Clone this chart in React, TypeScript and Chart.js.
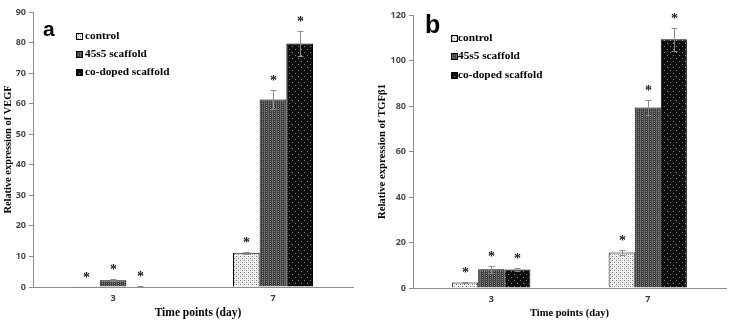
import React, { useEffect, useRef } from 'react';
import { Chart, registerables } from 'chart.js';

Chart.register(...registerables);

// Time points (x categories) and series names
const days = ['3', '7'];
const seriesNames = ['control', '45s5 scaffold', 'co-doped scaffold'];

// VEGF relative expression (mean) and error (SD)
const vegfControl = [0.1, 11.2];
const vegf45s5 = [2.2, 61.4];
const vegfCoDoped = [0.2, 79.7];
const vegfControlErr = [0.05, 0.3];
const vegf45s5Err = [0.3, 3.1];
const vegfCoDopedErr = [0.05, 4.1];

// TGFβ1 relative expression (mean) and error (SD)
const tgfControl = [2.4, 15.6];
const tgf45s5 = [8.2, 79.3];
const tgfCoDoped = [8.1, 109.3];
const tgfControlErr = [0.3, 1.2];
const tgf45s5Err = [1.5, 3.2];
const tgfCoDopedErr = [0.6, 5.2];

// Axis ticks
const vegfTicks = { min: 0, max: 90, step: 10 };
const tgfTicks = { min: 0, max: 120, step: 20 };

const xTitleText = 'Time points (day)';

type Dot = [number, number, string];

function makePattern(ctx: CanvasRenderingContext2D, size: number, bg: string, dots: Dot[]) {
  const tile = document.createElement('canvas');
  tile.width = size;
  tile.height = size;
  const g = tile.getContext('2d')!;
  g.fillStyle = bg;
  g.fillRect(0, 0, size, size);
  dots.forEach(([x, y, c]) => {
    g.fillStyle = c;
    g.fillRect(x, y, 1, 1);
  });
  return ctx.createPattern(tile, 'repeat')!;
}

function seriesPatterns(ctx: CanvasRenderingContext2D) {
  return [
    makePattern(ctx, 4, '#f3f3f3', [
      [0, 0, '#7a7a7a'],
      [2, 2, '#7a7a7a'],
      [2, 0, '#c4c4c4'],
      [0, 2, '#c4c4c4'],
    ]),
    makePattern(ctx, 4, '#3e3e3e', [
      [0, 0, '#6c6c6c'],
      [0, 1, '#6c6c6c'],
      [0, 2, '#6c6c6c'],
      [0, 3, '#6c6c6c'],
      [2, 1, '#8e8e8e'],
      [2, 3, '#8e8e8e'],
    ]),
    makePattern(ctx, 6, '#0d0d0d', [
      [1, 1, '#8a8a8a'],
      [4, 4, '#8a8a8a'],
    ]),
  ];
}

// Error bars with caps, plus a significance asterisk above each bar
const errorBarsPlugin = {
  id: 'errorBars',
  afterDatasetsDraw(chart: any, _args: any, opts: any) {
    const { ctx } = chart;
    const y = chart.scales.y;
    const errs: number[][] = opts.errors;
    ctx.save();
    chart.data.datasets.forEach((ds: any, i: number) => {
      const meta = chart.getDatasetMeta(i);
      meta.data.forEach((bar: any, j: number) => {
        const v = ds.data[j] as number;
        const e = errs[i][j];
        const x = Math.round(bar.x) + 0.5;
        const yHi = Math.round(y.getPixelForValue(v + e)) + 0.5;
        const yLo = Math.round(y.getPixelForValue(Math.max(0, v - e))) + 0.5;
        ctx.strokeStyle = '#8c8c8c';
        ctx.lineWidth = 1;
        ctx.beginPath();
        ctx.moveTo(x, yLo);
        ctx.lineTo(x, yHi);
        ctx.moveTo(x - 3, yHi);
        ctx.lineTo(x + 3, yHi);
        ctx.moveTo(x - 3, yLo);
        ctx.lineTo(x + 3, yLo);
        ctx.stroke();

        ctx.fillStyle = '#1a1a1a';
        ctx.font = 'bold 14px "Liberation Serif"';
        ctx.textAlign = 'center';
        ctx.textBaseline = 'alphabetic';
        const m = ctx.measureText('*');
        const cy = yHi - 13;
        ctx.fillText('*', x, cy + (m.actualBoundingBoxAscent - m.actualBoundingBoxDescent) / 2);
      });
    });
    ctx.restore();
  },
};

// Panel letter, x-axis title and the in-plot legend
const panelLegendPlugin = {
  id: 'panelLegend',
  afterDraw(chart: any, _args: any, opts: any) {
    const { ctx, chartArea } = chart;
    ctx.save();
    ctx.fillStyle = '#000';
    ctx.font = `bold ${opts.letterSize}px "Liberation Sans"`;
    ctx.textAlign = 'left';
    ctx.textBaseline = 'alphabetic';
    ctx.fillText(opts.letter, opts.letterX, opts.letterY);

    ctx.font = `bold ${opts.xTitleSize}px "Liberation Serif"`;
    ctx.textAlign = 'center';
    ctx.textBaseline = 'middle';
    ctx.fillText(xTitleText, (chartArea.left + chartArea.right) / 2 + opts.xTitleShift, opts.xTitleY);

    ctx.font = 'bold 11.3px "Liberation Serif"';
    ctx.textAlign = 'left';
    chart.data.datasets.forEach((ds: any, i: number) => {
      const cy = opts.legendY[i];
      const bx = opts.boxX;
      const s = 7;
      ctx.fillStyle = ds.backgroundColor;
      ctx.fillRect(bx, Math.round(cy - s / 2), s, s);
      ctx.strokeStyle = '#000';
      ctx.lineWidth = 1;
      ctx.strokeRect(bx + 0.5, Math.round(cy - s / 2) + 0.5, s - 1, s - 1);
      ctx.fillStyle = '#000';
      ctx.fillText(ds.label, opts.textX, cy);
    });
    ctx.restore();
  },
};

type PanelProps = {
  left: number;
  width: number;
  letter: string;
  letterSize: number;
  letterX: number;
  letterY: number;
  boxX: number;
  textX: number;
  legendY: number[];
  yTitle: string;
  yTitleSize: number;
  yTitlePad: number;
  xTitleSize: number;
  xTitleShift: number;
  ticks: { min: number; max: number; step: number };
  values: number[][];
  errors: number[][];
  padTop: number;
  padRight: number;
  yAxisWidth: number;
  xAxisHeight: number;
};

function Panel(p: PanelProps) {
  const ref = useRef<HTMLCanvasElement>(null);

  useEffect(() => {
    const canvas = ref.current!;
    const ctx = canvas.getContext('2d')!;
    const patterns = seriesPatterns(ctx);
    const tickFont = { family: '"Open Sans"', weight: 'bold' as const, size: 9 };
    const grey = '#8c8c8c';

    const chart = new Chart(canvas, {
      type: 'bar',
      data: {
        labels: days,
        datasets: p.values.map((vals, i) => ({
          label: seriesNames[i],
          data: vals,
          backgroundColor: patterns[i] as any,
          borderColor: '#000',
          borderWidth: 1,
          categoryPercentage: 0.5,
          barPercentage: 1,
        })),
      },
      options: {
        responsive: false,
        animation: false,
        devicePixelRatio: 1,
        layout: { padding: { top: p.padTop, right: p.padRight, left: 0, bottom: 0 } },
        plugins: {
          legend: { display: false },
          tooltip: { enabled: false },
          errorBars: { errors: p.errors },
          panelLegend: {
            letter: p.letter,
            letterSize: p.letterSize,
            letterX: p.letterX,
            letterY: p.letterY,
            boxX: p.boxX,
            textX: p.textX,
            legendY: p.legendY,
            xTitleSize: p.xTitleSize,
            xTitleShift: p.xTitleShift,
            xTitleY: 313,
          },
        } as any,
        scales: {
          x: {
            grid: { display: false, drawTicks: false },
            border: { display: true, color: grey, width: 1 },
            ticks: { color: '#3a3a3a', font: tickFont, padding: 6 },
            afterFit: (s: any) => {
              s.height = p.xAxisHeight;
            },
          },
          y: {
            min: p.ticks.min,
            max: p.ticks.max,
            grid: { drawOnChartArea: false, color: grey, tickLength: 4 },
            border: { display: true, color: grey, width: 1 },
            ticks: { stepSize: p.ticks.step, color: '#4a4a4a', font: tickFont, padding: 3 },
            title: {
              display: true,
              text: p.yTitle,
              color: '#000',
              font: { family: '"Liberation Serif"', weight: 'bold', size: p.yTitleSize },
              padding: { top: p.yTitlePad, bottom: 0 },
            },
            afterFit: (s: any) => {
              s.width = p.yAxisWidth;
            },
          },
        },
      },
      plugins: [errorBarsPlugin, panelLegendPlugin],
    });
    return () => chart.destroy();
  }, []);

  return (
    <canvas
      ref={ref}
      width={p.width}
      height={320}
      style={{ position: 'absolute', left: p.left, top: 0, width: p.width, height: 320 }}
    />
  );
}

export default function App() {
  return (
    <div
      style={{
        position: 'fixed',
        left: 0,
        top: 0,
        width: 730,
        height: 320,
        background: '#fff',
        overflow: 'hidden',
      }}
    >
      <Panel
        left={0}
        width={365}
        letter="a"
        letterSize={21}
        letterX={43}
        letterY={36}
        boxX={76}
        textX={85}
        legendY={[36, 54, 72]}
        yTitle="Relative expression of VEGF"
        yTitleSize={10.4}
        yTitlePad={2}
        xTitleSize={11.5}
        xTitleShift={5}
        ticks={vegfTicks}
        values={[vegfControl, vegf45s5, vegfCoDoped]}
        errors={[vegfControlErr, vegf45s5Err, vegfCoDopedErr]}
        padTop={12}
        padRight={12}
        yAxisWidth={33}
        xAxisHeight={33}
      />
      <Panel
        left={372}
        width={358}
        letter="b"
        letterSize={25}
        letterX={53}
        letterY={33}
        boxX={79}
        textX={86}
        legendY={[38, 56.5, 75]}
        yTitle="Relative expression of TGFβ1"
        yTitleSize={10.7}
        yTitlePad={3.6}
        xTitleSize={10.5}
        xTitleShift={0}
        ticks={tgfTicks}
        values={[tgfControl, tgf45s5, tgfCoDoped]}
        errors={[tgfControlErr, tgf45s5Err, tgfCoDopedErr]}
        padTop={15}
        padRight={4}
        yAxisWidth={41}
        xAxisHeight={32}
      />
    </div>
  );
}
